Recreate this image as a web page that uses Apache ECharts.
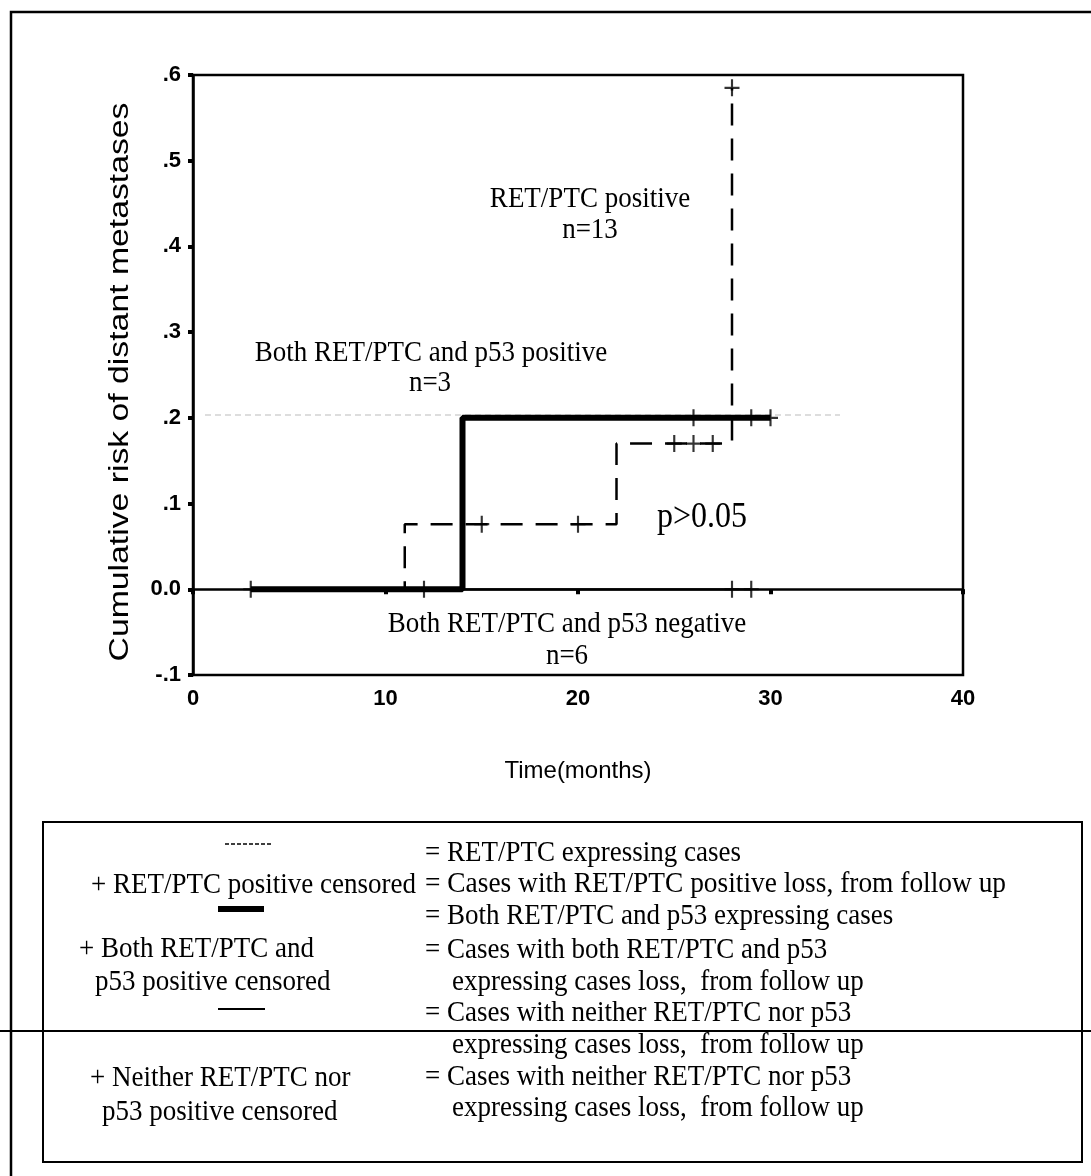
<!DOCTYPE html>
<html>
<head>
<meta charset="utf-8">
<script src="https://cdn.jsdelivr.net/npm/echarts@6/dist/echarts.min.js"></script>
<style>
html,body{margin:0;padding:0;background:#fff;}
#c{width:1091px;height:1176px;}
</style>
</head>
<body>
<div id="c"></div>
<script>
// ---- data ----
const xTicks = [0, 10, 20, 30, 40];
const yTicks = [-0.1, 0, 0.1, 0.2, 0.3, 0.4, 0.5, 0.6];
// step curves (time in months, cumulative risk)
const retPositive = [[3, 0], [11, 0.076], [22, 0.170], [28, 0.585]];
const bothPositive = [[3, 0], [14, 0.2], [30, 0.2]];
const bothNegative = [[3, 0], [29, 0]];
// censored observations
const retPositiveCensored = [[15, 0.076], [20, 0.076], [25, 0.170], [26, 0.170], [27, 0.170], [28, 0.585]];
const bothPositiveCensored = [[26, 0.2], [29, 0.2], [30, 0.2]];
const bothNegativeCensored = [[3, 0], [12, 0], [28, 0], [29, 0]];

const serif = '"Liberation Serif","Times New Roman",serif';
const sans = '"Liberation Sans",Arial,sans-serif';
const plus = 'path://M6,0h2v7h6v2h-6v7h-2v-7h-6v-2h6z';

const chart = echarts.init(document.getElementById('c'), null, {renderer: 'canvas'});

function txt(x, y, s, size, align, extra) {
  return Object.assign({
    type: 'text', x: x, y: y, z: 10, scaleY: 1.12,
    style: {text: s, fill: '#000', font: size + 'px ' + serif, textAlign: align || 'center', textVerticalAlign: 'middle'}
  }, extra || {});
}

const legendLeft = 425, legendIndent = 452;
const graphics = [
  // outer frame
  {type: 'polyline', shape: {points: [[11, 1176], [11, 12], [1091, 12]]}, style: {stroke: '#000', lineWidth: 2.5, fill: null}},
  // faint scan line at .2
  {type: 'line', shape: {x1: 205, y1: 415, x2: 840, y2: 415}, style: {stroke: '#bbb', lineWidth: 1, lineDash: [6, 4]}},
  // legend box
  {type: 'rect', shape: {x: 43, y: 822, width: 1039, height: 340}, style: {stroke: '#000', lineWidth: 2, fill: null}},
  {type: 'line', shape: {x1: 0, y1: 1031, x2: 1091, y2: 1031}, style: {stroke: '#000', lineWidth: 2}},
  // legend samples
  {type: 'line', shape: {x1: 225, y1: 844, x2: 272, y2: 844}, style: {stroke: '#000', lineWidth: 1.5, lineDash: [4, 2]}},
  {type: 'rect', shape: {x: 218, y: 906, width: 46, height: 6}, style: {fill: '#000'}},
  {type: 'line', shape: {x1: 218, y1: 1009, x2: 265, y2: 1009}, style: {stroke: '#000', lineWidth: 2}},
  // legend left texts
  txt(416, 885, '+ RET/PTC positive censored', 27, 'right'),
  txt(79, 949, '+ Both RET/PTC and', 27, 'left'),
  txt(95, 982, 'p53 positive censored', 27, 'left'),
  txt(90, 1078, '+ Neither RET/PTC nor', 27, 'left'),
  txt(102, 1112, 'p53 positive censored', 27, 'left'),
  // legend right texts
  txt(legendLeft, 853, '= RET/PTC expressing cases', 27, 'left'),
  txt(legendLeft, 884, '= Cases with RET/PTC positive loss, from follow up', 27, 'left', {scaleX: 1.015}),
  txt(legendLeft, 916, '= Both RET/PTC and p53 expressing cases', 27, 'left'),
  txt(legendLeft, 950, '= Cases with both RET/PTC and p53', 27, 'left'),
  txt(legendIndent, 982, 'expressing cases loss,  from follow up', 27, 'left'),
  txt(legendLeft, 1013, '= Cases with neither RET/PTC nor p53', 27, 'left'),
  txt(legendIndent, 1045, 'expressing cases loss,  from follow up', 27, 'left'),
  txt(legendLeft, 1077, '= Cases with neither RET/PTC nor p53', 27, 'left'),
  txt(legendIndent, 1108, 'expressing cases loss,  from follow up', 27, 'left'),
  // plot annotations
  txt(590, 199, 'RET/PTC positive', 27),
  txt(590, 230, 'n=13', 27),
  txt(431, 353, 'Both RET/PTC and p53 positive', 27),
  txt(430, 383, 'n=3', 27),
  txt(702, 518, 'p>0.05', 32),
  txt(567, 624, 'Both RET/PTC and p53 negative', 27),
  txt(567, 656, 'n=6', 27),
  // y axis title (stretched along its length like the scan)
  {type: 'text', x: 121, y: 382, rotation: Math.PI / 2, scaleX: 1.25, z: 10,
    style: {text: 'Cumulative risk of distant metastases', fill: '#000', font: '27px ' + sans, textAlign: 'center', textVerticalAlign: 'middle'}}
];

const lineBase = {type: 'line', step: 'end', symbol: 'none', silent: true, animation: false};
const censorBase = {type: 'scatter', symbol: plus, symbolSize: [15, 17], itemStyle: {color: '#000'}, silent: true, animation: false, z: 5};

chart.setOption({
  animation: false,
  grid: {left: 193, top: 75, width: 770, height: 600, show: true, borderColor: '#000', borderWidth: 2.5, backgroundColor: 'transparent'},
  xAxis: {
    type: 'value', min: 0, max: 40, interval: 10,
    name: 'Time(months)', nameLocation: 'middle', nameGap: 84,
    nameTextStyle: {fontFamily: sans, fontSize: 24, color: '#000'},
    axisLine: {show: true, lineStyle: {color: '#000', width: 2.5}},
    axisTick: {show: true, length: 5, lineStyle: {color: '#000', width: 4}},
    axisLabel: {fontFamily: sans, fontWeight: 'bold', fontSize: 22, color: '#000', margin: 13,
      formatter: v => xTicks.includes(Math.round(v)) ? String(Math.round(v)) : ''},
    splitLine: {show: false}
  },
  yAxis: {
    type: 'value', min: -0.1, max: 0.6, interval: 0.1,
    axisLine: {show: true, lineStyle: {color: '#000', width: 2.5}},
    axisTick: {show: true, length: 5, lineStyle: {color: '#000', width: 4}},
    axisLabel: {fontFamily: sans, fontWeight: 'bold', fontSize: 22, color: '#000', margin: 12,
      formatter: function (v) {
        const r = Math.round(v * 10) / 10;
        if (r === 0) return '0.0';
        return r.toFixed(1).replace('0.', '.');
      }},
    splitLine: {show: false}
  },
  series: [
    Object.assign({}, lineBase, {name: 'Neither', data: bothNegative, lineStyle: {color: '#000', width: 2.2}, z: 2}),
    Object.assign({}, lineBase, {name: 'RET/PTC positive', data: retPositive, lineStyle: {color: '#000', width: 2.5, type: [22, 13]}, z: 3}),
    Object.assign({}, lineBase, {name: 'Both positive', data: bothPositive, lineStyle: {color: '#000', width: 6}, z: 4}),
    Object.assign({}, censorBase, {data: retPositiveCensored}),
    Object.assign({}, censorBase, {data: bothPositiveCensored}),
    Object.assign({}, censorBase, {data: bothNegativeCensored})
  ],
  graphic: graphics
});
</script>
</body>
</html>
